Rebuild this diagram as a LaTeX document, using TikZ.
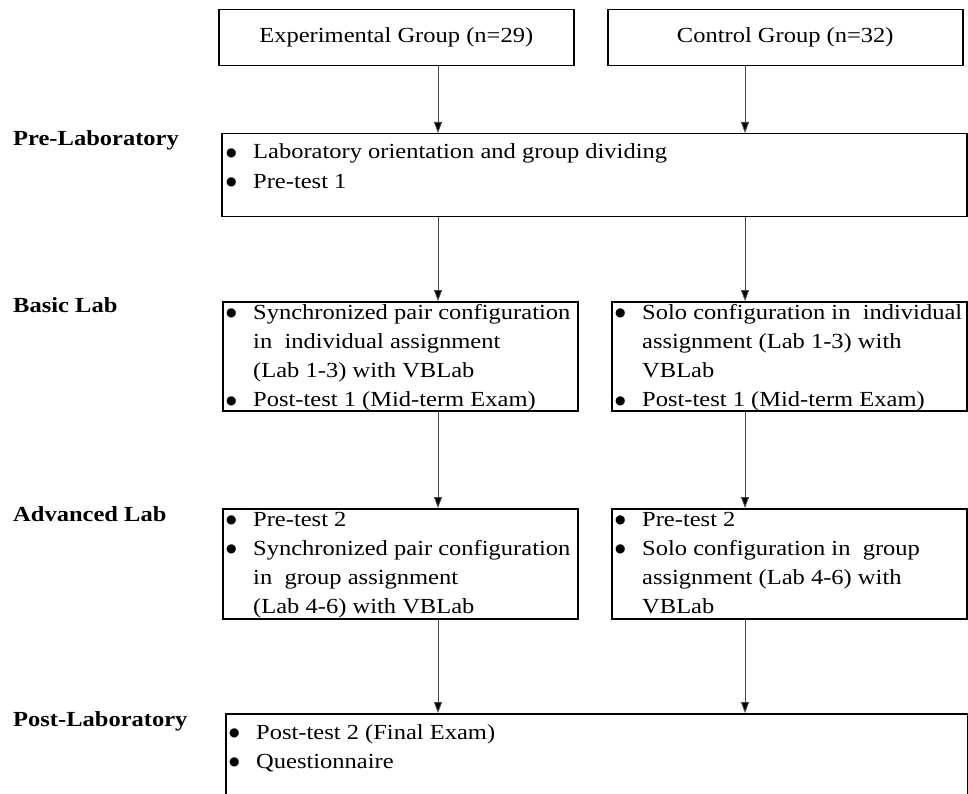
\documentclass[tikz,border=0pt]{standalone}
\usepackage{fontspec}
\setmainfont{Liberation Serif}[FakeStretch=1.14]
\newfontfamily\symfont{DejaVu Sans}
\usetikzlibrary{arrows.meta,calc}
\newcommand{\bul}{\makebox[28pt][l]{\hspace{1pt}\raisebox{2.8pt}{\symfont\fontsize{12}{12}\selectfont ●}}}
\newcommand{\ind}{\hspace*{28pt}}
\tikzset{
  boxnode/.style={draw=black, line width=1.5pt, rectangle, inner sep=0pt, anchor=north west, fill=white},
  titlenode/.style={boxnode, font=\fontsize{21.5}{29.3}\selectfont},
  txtnode/.style={inner sep=0pt, anchor=base west, font=\fontsize{21.5}{29.3}\selectfont},
  phasenode/.style={inner sep=0pt, anchor=base west, font=\fontsize{21.5}{29.3}\selectfont\bfseries},
  arr/.style={draw={rgb,255:red,70;green,70;blue,70}, line width=0.9pt, -{Triangle[width=8pt,length=11pt,fill=black]}},
}
\begin{document}
\begin{tikzpicture}[x=1pt,y=-1pt]
\useasboundingbox (0,0) rectangle (968,794);
% columns for arrows
\coordinate (colL) at (438,0);
\coordinate (colR) at (745,0);
% boxes
\node[titlenode, minimum width=355pt, minimum height=56pt] (exp) at (218,9) {Experimental Group (n=29)};
\node[titlenode, minimum width=355pt, minimum height=56pt] (ctrl) at (607,9) {Control Group (n=32)};
\node[boxnode, minimum width=745pt, minimum height=83pt] (pre) at (221,133) {};
\node[boxnode, minimum width=355pt, minimum height=109pt] (bE) at (222,301) {};
\node[boxnode, minimum width=355pt, minimum height=109pt] (bC) at (611,301) {};
\node[boxnode, minimum width=355pt, minimum height=110pt] (aE) at (222,508) {};
\node[boxnode, minimum width=355pt, minimum height=110pt] (aC) at (611,508) {};
\node[boxnode, minimum width=742pt, minimum height=100pt] (post) at (225,713) {};
% box texts
\node[txtnode] (preT) at (225,159) {\begin{tabular}[t]{@{}l@{}}
\bul Laboratory orientation and group dividing\\
\bul Pre-test 1\end{tabular}};
\node[txtnode] (bET) at (225,319) {\begin{tabular}[t]{@{}l@{}}
\bul Synchronized pair configuration\\
\ind in\ \ individual assignment\\
\ind (Lab 1-3) with VBLab\\
\bul Post-test 1 (Mid-term Exam)\end{tabular}};
\node[txtnode] (bCT) at (614,319) {\begin{tabular}[t]{@{}l@{}}
\bul Solo configuration in\ \ individual\\
\ind assignment (Lab 1-3) with\\
\ind VBLab\\
\bul Post-test 1 (Mid-term Exam)\end{tabular}};
\node[txtnode] (aET) at (225,526) {\begin{tabular}[t]{@{}l@{}}
\bul Pre-test 2\\
\bul Synchronized pair configuration\\
\ind in\ \ group assignment\\
\ind (Lab 4-6) with VBLab\end{tabular}};
\node[txtnode] (aCT) at (614,526) {\begin{tabular}[t]{@{}l@{}}
\bul Pre-test 2\\
\bul Solo configuration in\ \ group\\
\ind assignment (Lab 4-6) with\\
\ind VBLab\end{tabular}};
\node[txtnode] (postT) at (228,739) {\begin{tabular}[t]{@{}l@{}}
\bul Post-test 2 (Final Exam)\\
\bul Questionnaire\end{tabular}};
% phase labels
\node[phasenode] (l1) at (13,146) {Pre-Laboratory};
\node[phasenode] (l2) at (13,312) {Basic Lab};
\node[phasenode] (l3) at (13,521) {Advanced Lab};
\node[phasenode] (l4) at (13,726) {Post-Laboratory};
% arrows
\draw[arr] (exp.south -| colL) -- (pre.north -| colL);
\draw[arr] (ctrl.south -| colR) -- (pre.north -| colR);
\draw[arr] (pre.south -| colL) -- (bE.north -| colL);
\draw[arr] (pre.south -| colR) -- (bC.north -| colR);
\draw[arr] (bE.south -| colL) -- (aE.north -| colL);
\draw[arr] (bC.south -| colR) -- (aC.north -| colR);
\draw[arr] (aE.south -| colL) -- (post.north -| colL);
\draw[arr] (aC.south -| colR) -- (post.north -| colR);
\end{tikzpicture}
\end{document}
